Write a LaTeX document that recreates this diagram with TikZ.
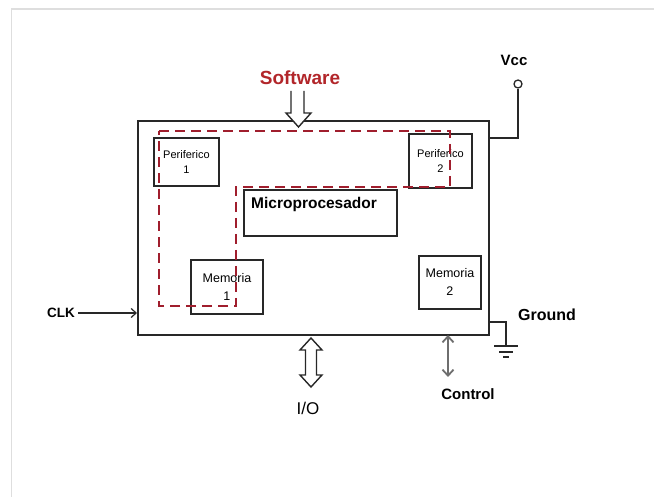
\documentclass[tikz,border=0pt]{standalone}
\usepackage{fontspec}
\setmainfont{Liberation Sans}
\usetikzlibrary{arrows.meta}
\definecolor{swred}{RGB}{178,38,42}
\definecolor{dashred}{RGB}{160,30,45}
\definecolor{boxgray}{RGB}{40,40,40}
\definecolor{ctrlgray}{RGB}{110,110,110}
\definecolor{framegray}{RGB}{222,222,222}
\begin{document}
\begin{tikzpicture}[
    x=1pt, y=-1pt,
    box/.style={rectangle, draw=boxgray, line width=1.9pt, inner sep=0pt, anchor=north west, align=center, font=\fontsize{11}{15}\selectfont},
    membox/.style={box, font=\fontsize{12.5}{18}\selectfont},
    wire/.style={draw=boxgray, line width=1.6pt},
    lbl/.style={font=\fontsize{14}{16}\selectfont\bfseries},
    hollow/.style={draw=boxgray, line width=1.4pt, fill=white, line join=miter},
    swpath/.style={draw=dashred, line width=2.8pt, dash pattern=on 10pt off 6pt}
]
\useasboundingbox (0,0) rectangle (654,497);
\fill[white] (0,0) rectangle (654,497);
\draw[framegray, line width=1.6pt] (11.5,510) -- (11.5,9.3) -- (670,9.3);
% main chip
\node[box, minimum width=351, minimum height=214] (main) at (137,120) {};
\node[box, minimum width=65, minimum height=48] (per1) at (153,137) {Periferico\\1};
\node[box, minimum width=63, minimum height=54] (per2) at (408,133) {Periferico\\2};
\node[box, minimum width=153, minimum height=46] (micro) at (243,189) {};
\node[anchor=west, inner sep=0pt, font=\fontsize{15.5}{17}\selectfont\bfseries] (microtxt) at ([xshift=8pt, yshift=-15pt]micro.north west) {Microprocesador};
\node[membox, minimum width=72, minimum height=54] (mem1) at (190,259) {Memoria\\1};
\node[membox, minimum width=62, minimum height=53] (mem2) at (418,255) {Memoria\\2};
% software region
\path[swpath] (159,131) -- (450,131) -- (450,187) -- (236,187) -- (236,306) -- (159,306) -- cycle;
% outside labels
\node[font=\fontsize{19}{21}\selectfont\bfseries, text=swred] (sw) at (300,78) {Software};
\node[lbl, font=\fontsize{15}{17}\selectfont\bfseries] (vcc) at (514,60) {Vcc};
\node[circle, draw=boxgray, line width=1.3pt, fill=white, inner sep=0pt, minimum size=8] (vccpin) at (518,84) {};
\node[lbl, font=\fontsize{16}{18}\selectfont\bfseries] (gnd) at (547,315) {Ground};
\node[lbl, font=\fontsize{13.5}{15}\selectfont\bfseries] (clk) at (61,313) {CLK};
\node[font=\fontsize{17}{19}\selectfont] (io) at (308,408) {I/O};
\node[lbl, font=\fontsize{15}{17}\selectfont\bfseries] (ctrl) at (468,394) {Control};
\coordinate (gndpt) at (506,346);
% connections
\draw[wire] (vccpin.south) |- ([yshift=-18pt]main.north east);
\draw[wire] ([yshift=14pt]main.south east) -| (gndpt);
\draw[wire] (494,346) -- (518,346) (499,352) -- (513,352) (503,357) -- (509,357);
\draw[wire, line width=1.2pt, -{Straight Barb[length=5pt, width=9pt]}] (clk.east) -- (clk.east -| main.west);
\draw[ctrlgray, line width=1.8pt, {Straight Barb[length=6pt, width=11pt]}-{Straight Barb[length=6pt, width=11pt]}] (448,335) -- (448,377);
% hollow arrows
\path[hollow] (291,91) -- (291,113) -- (286,113) -- (298.5,127) -- (311,113) -- (304,113) -- (304,91);
\path[hollow] (311,338) -- (322,350) -- (316.5,350) -- (316.5,375) -- (322,375) -- (311,387) -- (300,375) -- (305.5,375) -- (305.5,350) -- (300,350) -- cycle;
\end{tikzpicture}
\end{document}
